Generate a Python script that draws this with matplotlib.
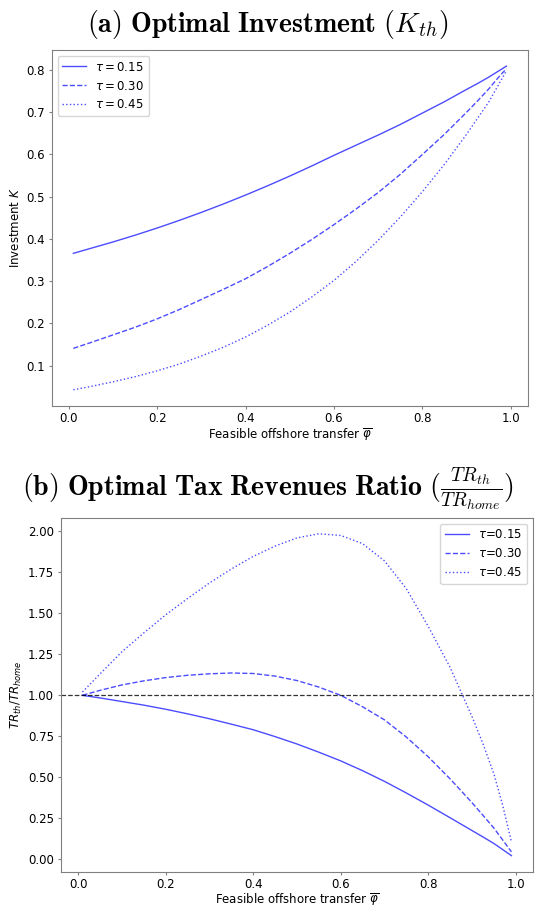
import matplotlib
matplotlib.use("Agg")
import matplotlib.pyplot as plt

# feasible offshore transfer grid
phi = [0.01, 0.05, 0.10, 0.15, 0.20, 0.25, 0.30, 0.35, 0.40, 0.45, 0.50,
       0.55, 0.60, 0.65, 0.70, 0.75, 0.80, 0.85, 0.90, 0.925, 0.95, 0.97, 0.99]
taus = ["0.15", "0.30", "0.45"]

# (a) optimal investment K_th
k_015 = [0.366, 0.378, 0.393, 0.409, 0.426, 0.444, 0.463, 0.483, 0.504, 0.526, 0.549,
         0.573, 0.598, 0.622, 0.646, 0.671, 0.698, 0.725, 0.754, 0.768, 0.783, 0.796, 0.809]
k_030 = [0.141, 0.155, 0.173, 0.191, 0.211, 0.233, 0.257, 0.281, 0.306, 0.335, 0.366,
         0.399, 0.434, 0.471, 0.510, 0.553, 0.600, 0.648, 0.700, 0.727, 0.755, 0.780, 0.803]
k_045 = [0.043, 0.051, 0.062, 0.074, 0.088, 0.104, 0.123, 0.144, 0.168, 0.196, 0.227,
         0.263, 0.302, 0.347, 0.397, 0.452, 0.512, 0.577, 0.648, 0.686, 0.724, 0.761, 0.798]

# (b) tax revenues ratio TR_th / TR_home
tr_015 = [1.000, 0.984, 0.962, 0.940, 0.915, 0.887, 0.857, 0.824, 0.790, 0.748, 0.703,
          0.653, 0.600, 0.540, 0.475, 0.404, 0.330, 0.253, 0.175, 0.136, 0.096, 0.059, 0.022]
tr_030 = [1.000, 1.030, 1.063, 1.088, 1.108, 1.122, 1.131, 1.136, 1.133, 1.117, 1.090,
          1.050, 1.000, 0.930, 0.850, 0.745, 0.625, 0.490, 0.345, 0.268, 0.190, 0.118, 0.045]
tr_045 = [1.020, 1.130, 1.265, 1.380, 1.490, 1.590, 1.685, 1.770, 1.847, 1.910, 1.960,
          1.985, 1.975, 1.925, 1.820, 1.650, 1.420, 1.170, 0.870, 0.705, 0.520, 0.330, 0.107]

styles = ["-", "--", ":"]

plt.rcParams["font.size"] = 8.5
plt.rcParams["axes.edgecolor"] = "gray"
plt.rcParams["xtick.color"] = "gray"
plt.rcParams["ytick.color"] = "gray"
plt.rcParams["xtick.labelcolor"] = "black"
plt.rcParams["ytick.labelcolor"] = "black"
plt.rcParams["xtick.major.size"] = 2.5
plt.rcParams["ytick.major.size"] = 2.5
plt.rcParams["xtick.major.pad"] = 2
plt.rcParams["ytick.major.pad"] = 2.5

fig = plt.figure(figsize=(5.35, 9.07), dpi=100)
ax1 = fig.add_axes([0.0966, 0.5524, 0.8904, 0.3925])
ax2 = fig.add_axes([0.114, 0.0389, 0.882, 0.3903])

for ys, ls, t in zip([k_015, k_030, k_045], styles, taus):
    ax1.plot(phi, ys, color="blue", linestyle=ls, linewidth=1, alpha=0.7,
             label=r"$\tau = %s$" % t)
ax1.set_xlabel(r"Feasible offshore transfer $\overline{\varphi}$", labelpad=1)
ax1.set_ylabel(r"Investment $K$", labelpad=3)
ax1.legend(loc="upper left")

for ys, ls, t in zip([tr_015, tr_030, tr_045], styles, taus):
    ax2.plot(phi, ys, color="blue", linestyle=ls, linewidth=1, alpha=0.7,
             label=r"$\tau$=%s" % t)
ax2.axhline(1.0, color="black", linestyle="--", linewidth=0.9, alpha=0.8)
ax2.set_xlabel(r"Feasible offshore transfer $\overline{\varphi}$", labelpad=0)
ax2.set_ylabel(r"$TR_{th}/TR_{home}$", labelpad=3)
ax2.legend(loc="upper right")

fig.text(0.5, 0.9735, r"$\mathbf{(a)\ Optimal\ Investment}\ (K_{th})$",
         ha="center", va="center", fontsize=20, math_fontfamily="cm")
fig.text(0.5, 0.461,
         r"$\mathbf{(b)\ Optimal\ Tax\ Revenues\ Ratio}\ (\frac{TR_{th}}{TR_{home}})$",
         ha="center", va="center", fontsize=20, math_fontfamily="cm")

fig.savefig("out.png", dpi=100)
